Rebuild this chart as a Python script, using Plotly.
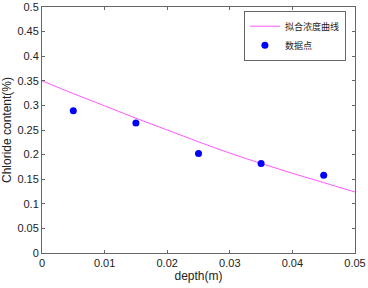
import plotly.graph_objects as go

# Fitted concentration curve
curve_depth = [0, 0.005, 0.01, 0.015, 0.02, 0.025, 0.03, 0.035, 0.04, 0.045, 0.05]
curve_conc = [0.350, 0.324, 0.299, 0.274, 0.250, 0.226, 0.203, 0.182, 0.162, 0.143, 0.124]

# Measured data points
pt_depth = [0.005, 0.015, 0.025, 0.035, 0.045]
pt_conc = [0.289, 0.264, 0.202, 0.182, 0.158]

x_ticks = [0, 0.01, 0.02, 0.03, 0.04, 0.05]
x_ticktext = ["0", "0.01", "0.02", "0.03", "0.04", "0.05"]
y_ticks = [0, 0.05, 0.1, 0.15, 0.2, 0.25, 0.3, 0.35, 0.4, 0.45, 0.5]
y_ticktext = ["0", "0.05", "0.1", "0.15", "0.2", "0.25", "0.3", "0.35", "0.4", "0.45", "0.5"]

fig = go.Figure()
fig.add_trace(go.Scatter(x=curve_depth, y=curve_conc, mode="lines", name="拟合浓度曲线",
                         line=dict(color="#ff55ff", width=1, shape="spline")))
fig.add_trace(go.Scatter(x=pt_depth, y=pt_conc, mode="markers", name="数据点",
                         marker=dict(color="#0000ff", size=7)))

axis_common = dict(showline=True, linecolor="#666666", linewidth=1, mirror="ticks",
                   ticks="inside", ticklen=3, tickcolor="#666666", showgrid=False,
                   zeroline=False, automargin=False,
                   tickfont=dict(family="Liberation Sans", size=11, color="#222"))

fig.update_xaxes(range=[0, 0.05], tickvals=x_ticks, ticktext=x_ticktext,
                 title=dict(text="depth(m)", font=dict(family="Liberation Sans", size=12, color="#222"), standoff=2),
                 **axis_common)
fig.update_yaxes(range=[0, 0.5], tickvals=y_ticks, ticktext=y_ticktext,
                 title=dict(text="Chloride content(%)", font=dict(family="Liberation Sans", size=12, color="#222"), standoff=4),
                 **axis_common)

fig.update_layout(
    width=368, height=288,
    margin=dict(l=42, r=13, t=7, b=35),
    paper_bgcolor="white", plot_bgcolor="white",
    showlegend=True,
    legend=dict(x=0.971, y=0.985, xanchor="right", yanchor="top",
                bordercolor="#666666", borderwidth=1, bgcolor="white",
                font=dict(family="Noto Sans CJK SC", size=9, color="#222"),
                itemwidth=30, tracegroupgap=0),
)

fig.write_html("out.html", config={"displayModeBar": False},
               post_script="document.body.style.margin='0';document.body.style.overflow='hidden';")
